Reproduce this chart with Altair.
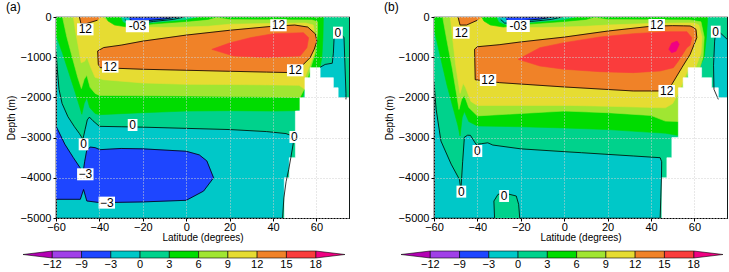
import altair as alt
import pandas as pd

FONT = "Liberation Sans"
XTICKS = [-60, -40, -20, 0, 20, 40, 60]
YTICKS = [-5000, -4000, -3000, -2000, -1000, 0]
CB_LABELS = ["−12", "−9", "−3", "0", "3", "6", "9", "12", "15", "18"]
CB_COLORS = ["#a040e8", "#1e46ff", "#00c8c8", "#00d28c", "#00dc00",
             "#a0e632", "#e6dc32", "#f08228", "#fa3c3c"]
TIP_LOW = "#b400b4"
TIP_HIGH = "#f00082"
PURPLE, BLUE, CYAN, TEAL, GREEN, LGREEN, YELLOW, ORANGE, RED = CB_COLORS
MAGENTA = TIP_HIGH

# ---------------- panel (a) ----------------
A_ZERO_LAT = [-60, -59.4, -58.6, -57.2, -54.5, -51.5, -49.2, -47.6, -46.6, -45.6, -44.6, -43, -40,
              -30, -20, 0, 20, 37, 46, 48.8, 49.3, 48.2, 47.2, 46, 45, 44.4]
A_ZERO_DEP = [-850, -1300, -1800, -2150, -2480, -2730, -2900, -3040, -2800, -2560, -2490, -2580, -2720,
              -2730, -2740, -2770, -2800, -2850, -2900, -2960, -3150, -3500, -3800, -4100, -4500, -5000]
A_G3_LAT = [-60, -57, -54, -51, -49, -48.1, -47, -45.8, -44.5, -42, -40, -20, 0, 20, 40, 50, 52.4,
            54.7, 57, 60, 61.7, 62.5, 63, 63.2, -60]
A_G3_DEP = [-450, -900, -1400, -1900, -2250, -2420, -2150, -2000, -2250, -2400, -2430, -2380, -2340,
            -2330, -2340, -2330, -2300, -1760, -1450, -1280, -1240, -1000, -500, 0, 0]
A_G6_LAT = [-57, -55, -52.5, -50, -48.3, -47, -45.8, -44.3, -42, -40, -20, 0, 20, 40, 52.4, 54.7,
            57.1, 59.5, 60.5, 60.5, 58, 40, 20, 12, -36]
A_G6_DEP = [0, -500, -1000, -1500, -1780, -1550, -1450, -1750, -1900, -1950, -1960, -1965, -1975,
            -1990, -2000, -1760, -1300, -900, -400, -120, -75, -70, -65, 0, 0]
A_Y9_LAT = [-52, -39, -36, -30, -20, -10, 0, 10, 20, 40, 55, 58.5, 59.4, 59, 56.5, 54.7, 54.7, 52,
            40, 20, 0, -20, -38, -42, -44, -45.7, -46.8, -48.4, -49.5, -51]
A_Y9_DEP = [0, 0, -100, -220, -250, -260, -250, -230, -180, -160, -150, -200, -500, -900, -1260,
            -1500, -1800, -1700, -1690, -1680, -1675, -1640, -1560, -1500, -1250, -1000, -1100,
            -1140, -800, -350]
A_O12_LAT = [-40.8, -38, -30, -20, 0, 20, 40, 50, 56, 59.5, 60.2, 59, 57.1, 52.5, 49.5, 37, 20, 0,
             -20, -39.6, -40.5]
A_O12_DEP = [-845, -760, -700, -600, -450, -330, -230, -200, -250, -420, -600, -800, -1010, -1260,
             -1385, -1370, -1350, -1325, -1300, -1260, -1180]
A_R15_LAT = [11.8, 20.3, 30, 40.2, 54, 56.4, 55.6, 52.5, 37.2, 21.8]
A_R15_DEP = [-805, -640, -510, -415, -390, -514, -763, -970, -1010, -970]
A_WEDGE_LAT = [-49.2, -39.4, -40.9, -46.1, -48.5]
A_WEDGE_DEP = [0, 0, -80, -166, -166]
A_SG_LAT = [-37, 14, 10, 0, -15, -27, -33, -36]
A_SG_DEP = [0, 0, -60, -110, -170, -250, -200, -100]
A_ST_LAT = [-30, 5, 0, -10, -20, -25, -29]
A_ST_DEP = [0, 0, -60, -110, -160, -210, -120]
A_SC_LAT = [-28.5, -1, -6, -15, -22, -26.5, -28.3]
A_SC_DEP = [0, 0, -60, -110, -160, -150, -60]
A_SB_LAT = [-26, -4, -10, -18, -24, -26]
A_SB_DEP = [0, 0, -50, -90, -110, -60]
A_NORD_LAT = [68.1, 70, 72.7, 73.6, 73.6, 66, 61.7, 61.7, 64, 67.3, 67.8]
A_NORD_DEP = [-555, -330, -515, -1900, -2100, -2100, -1600, -1250, -1180, -1150, -900]
A_NORDLINE_LAT = [61.7, 64, 67.3, 67.8, 68.1, 70, 72.7, 73.6, 73.6]
A_NORDLINE_DEP = [-1250, -1180, -1150, -900, -555, -330, -515, -1900, -2050]
A_DEEP_LAT = [-60, -55.9, -52, -48.9, -47.6, -46.8, -45.9, -44.3, -42, -39.7, -30, -20, 0, 6, 9.5,
              12.6, 8, 0, -20, -39.6, -45.8, -47.3, -48.8, -60]
A_DEEP_DEP = [-2712, -3168, -3500, -3750, -3900, -3600, -3334, -3235, -3250, -3300, -3270, -3280,
              -3340, -3430, -3580, -4000, -4330, -4560, -4600, -4618, -4576, -4290, -4535, -4535]
A_LAND_LAT = [45.2, 45.2, 47.5, 47.5, 50.3, 50.3, 52.4, 52.4, 54.7, 54.7, 57.1, 57.1, 61.7, 61.7,
              67.8, 67.8, 70, 70, 75, 75]
A_LAND_DEP = [-5000, -4000, -4000, -3500, -3500, -2340, -2340, -2010, -2010, -1510, -1510, -1260,
              -1260, -1510, -1510, -1760, -1760, -2010, -2010, -5000]
A_LAB_TEXT = ["12", "12", "0", "12", "12", "0", "0", "0", "−3", "−3", "-03"]
A_LAB_LAT = [-46.5, 42.5, 69.9, -35, 50.2, -24.7, 49.8, -47.3, -46.5, -36.6, -22.5]
A_LAB_DEP = [-307, -207, -390, -1235, -1326, -2686, -2984, -3167, -3913, -4618, -230]

# ---------------- panel (b) ----------------
B_ZERO_LAT = [-60, -59.6, -59, -56.8, -52.1, -48.3, -47.6, -46.8, -46, -44.5, -43.2, -42, -40.6,
              -38, -35.2, -32.9, -20, 0, 8, 31.8, 44.2, 44.9, 44.8, 44.5, 44.2]
B_ZERO_DEP = [-1600, -1900, -2300, -3085, -3660, -4040, -4300, -3600, -2990, -2940, -2945, -3050,
              -3170, -3150, -3130, -3185, -3280, -3350, -3376, -3457, -3500, -3600, -4000, -4500, -5000]
B_BULGE_LAT = [-32.1, -32.4, -30.5, -27.5, -22.1, -21.0, -20.5]
B_BULGE_DEP = [-5000, -4578, -4412, -4380, -4453, -4660, -5000]
B_G3_LAT = [-60, -57, -54, -51, -49, -48, -47, -46, -44, -40, -20, 0, 20, 40, 46.6, 52.6, 54.8,
            57.1, 62, 64.5, 65.5, 66, 66, -60]
B_G3_DEP = [-300, -1000, -1700, -2300, -2700, -2960, -2500, -2350, -2600, -2710, -2730, -2760,
            -2800, -2870, -2890, -2950, -1700, -1400, -1280, -1000, -500, -100, 0, 0]
B_G6_LAT = [-56, -54, -51.5, -49.5, -48.5, -47.3, -46, -44, -40, -20, 0, 20, 40, 46.6, 52.6, 54.8,
            57.1, 62.5, 64, 64.5, 63, 58, 40, 20, 12, -36]
B_G6_DEP = [0, -600, -1300, -1950, -2300, -2050, -1950, -2250, -2460, -2400, -2340, -2380, -2450,
            -2590, -2600, -1760, -1400, -1260, -1000, -500, -120, -75, -70, -65, 0, 0]
B_Y9_LAT = [-52.5, -38, -35, -30, -20, -10, 0, 10, 20, 40, 55, 60, 62, 63.5, 63, 60.5, 57.1, 54.8,
            52.5, 50, 46.6, 20, 3, -20, -40, -43, -45.5, -46.6, -48, -50, -51.5]
B_Y9_DEP = [0, 0, -100, -230, -260, -260, -250, -230, -200, -160, -150, -150, -200, -500, -900,
            -1260, -1300, -1600, -1900, -2150, -2260, -2220, -2200, -2200, -2200, -2100, -1750,
            -1650, -1900, -1200, -500]
B_O12_LAT = [-41.3, -40, -30, -20, 0, 20, 40, 50, 55, 58, 59.5, 60.7, 61.1, 58, 54.2, 49.6, 46.5,
             44.2, 31.8, 0, -29.7, -41]
B_O12_DEP = [-800, -740, -690, -620, -500, -350, -230, -215, -220, -224, -260, -307, -514, -930,
             -1260, -1675, -1840, -1840, -1840, -1740, -1633, -1560]
B_R15_LAT = [-21.2, -11.2, 0, 16.5, 31.8, 47.2, 56.5, 58.8, 58, 56.5, 52.6, 50.3, 44.2, 31.8, 16.5,
             0, -11.2]
B_R15_DEP = [-1053, -763, -638, -497, -415, -365, -365, -514, -700, -763, -1094, -1260, -1343,
             -1384, -1360, -1300, -1219]
B_M18_LAT = [48.2, 49.5, 52, 53, 51.5, 49.5]
B_M18_DEP = [-800, -650, -600, -680, -850, -890]
B_WEDGE_LAT = [-48.9, -38.2, -40, -45, -48]
B_WEDGE_DEP = [0, 0, -80, -200, -200]
B_SG_LAT = [-38, 14, 10, 0, -15, -28, -34, -37]
B_SG_DEP = [0, 0, -60, -110, -170, -250, -200, -100]
B_ST_LAT = [-31, 5, 0, -10, -21, -26, -30]
B_ST_DEP = [0, 0, -60, -110, -160, -210, -120]
B_SC_LAT = [-29.5, -1, -6, -15, -23, -27.5, -29.3]
B_SC_DEP = [0, 0, -60, -110, -160, -150, -60]
B_SB_LAT = [-26.6, -5, -11, -19, -25, -26.6]
B_SB_DEP = [0, 0, -50, -90, -110, -60]
B_NORD_LAT = [69.3, 69.9, 72, 75, 75, 71, 69, 68.8]
B_NORD_DEP = [-600, -330, -400, -550, -2100, -2100, -1800, -1200]
B_NORDLINE_LAT = [71, 69, 68.8, 69.3, 69.9, 72, 75]
B_NORDLINE_DEP = [-2050, -1800, -1200, -600, -330, -400, -550]
B_LAND_LAT = [45, 45, 47.3, 47.3, 49.6, 49.6, 52.6, 52.6, 54.8, 54.8, 57.1, 57.1, 63.3, 63.3, 67.9,
              67.9, 71, 71, 75, 75]
B_LAND_DEP = [-5000, -4000, -4000, -3500, -3500, -3000, -3000, -1760, -1760, -1510, -1510, -1260,
              -1260, -1510, -1510, -1760, -1760, -2010, -2010, -5000]
B_LAB_TEXT = ["12", "-03", "12", "0", "12", "12", "0", "0", "0"]
B_LAB_LAT = [-47.4, -21.2, 42.6, 69.8, -35.1, 47.2, -40, -47.4, -27.7]
B_LAB_DEP = [-390, -224, -199, -365, -1567, -1840, -3333, -4344, -4452]

# ---------------- helpers ----------------
W, H = 293, 201
XS = alt.Scale(domain=[-60, 75], nice=False, zero=False)
YS = alt.Scale(domain=[-5000, 0], nice=False, zero=False)
AX_COMMON = dict(grid=True, gridColor="#d0d0d0", gridDash=[1, 2], gridWidth=1, domain=False,
                 tickSize=3, tickColor="black", labelFont=FONT, labelFontSize=11, labelColor="black",
                 titleFont=FONT, titleFontSize=10, titleFontWeight="normal", titleColor="black",
                 zindex=1, format="d", labelFlush=False)
XAX = alt.Axis(values=XTICKS, title="Latitude (degrees)", labelPadding=0, titlePadding=0, **AX_COMMON)
YAX = alt.Axis(values=YTICKS, title="Depth (m)", labelPadding=2, titlePadding=4, **AX_COMMON)


def table(lats, deps, close):
    lats, deps = list(lats), list(deps)
    if close:
        lats.append(lats[0])
        deps.append(deps[0])
    return pd.DataFrame({"lat": lats, "dep": deps, "i": list(range(len(lats)))})


def xy():
    return dict(x=alt.X("lat:Q", scale=XS, axis=XAX), y=alt.Y("dep:Q", scale=YS, axis=YAX))


def fill_layer(color, lats, deps):
    return alt.Chart(table(lats, deps, True)).mark_line(
        fill=color, stroke=color, strokeWidth=0.6, clip=True).encode(order="i:Q", **xy())


def line_layer(lats, deps, close=False):
    return alt.Chart(table(lats, deps, close)).mark_line(
        color="black", strokeWidth=0.8, clip=True).encode(order="i:Q", **xy())


def label_layers(texts, lats, deps):
    df = pd.DataFrame({"t": texts, "lat": lats, "dep": deps})
    df["n"] = df["t"].str.len()
    out = []
    for n, sub in df.groupby("n"):
        half = (n * 6.7 + 3) / 12.0
        path = f"M{-half:.2f},-1H{half:.2f}V1H{-half:.2f}Z"
        out.append(alt.Chart(sub).mark_point(shape=path, filled=True, fill="white", opacity=1,
                                             size=144, strokeWidth=0).encode(**xy()))
    out.append(alt.Chart(df).mark_text(font=FONT, fontSize=12, color="black").encode(
        text="t:N", **xy()))
    return out


def panel(title, fills, lines, labels):
    layers = [fill_layer(*f) for f in fills]
    layers += [line_layer(*l) for l in lines]
    layers += label_layers(*labels)
    return alt.layer(*layers).properties(
        width=W, height=H,
        title=alt.TitleParams(title, anchor="start", frame="bounds", font=FONT, fontSize=12,
                              fontWeight="normal", offset=-3, color="black"),
        view=alt.ViewBackground(stroke="black", strokeWidth=1.2, fill=CYAN))


def colorbar():
    cbx = alt.Scale(domain=[0.127, 10.138], nice=False, zero=False)
    cby = alt.Scale(domain=[0, 1], nice=False, zero=False)
    boxes = pd.DataFrame({"a": list(range(9)), "b": list(range(1, 10)), "c": CB_COLORS,
                          "lo": [0] * 9, "hi": [1] * 9})
    rect = alt.Chart(boxes).mark_rect(stroke="black", strokeWidth=0.6).encode(
        x=alt.X("a:Q", scale=cbx, axis=None), x2="b:Q",
        y=alt.Y("lo:Q", scale=cby, axis=None), y2="hi:Q",
        fill=alt.Fill("c:N", scale=None))
    tris = []
    for col, xs in [(TIP_LOW, [0, -1, 0]), (TIP_HIGH, [9, 10, 9])]:
        df = pd.DataFrame({"a": xs + [xs[0]], "v": [0, 0.5, 1, 0], "i": [0, 1, 2, 3]})
        tris.append(alt.Chart(df).mark_line(fill=col, stroke="black", strokeWidth=0.6).encode(
            x=alt.X("a:Q", scale=cbx, axis=None), y=alt.Y("v:Q", scale=cby, axis=None),
            order="i:Q"))
    labs = pd.DataFrame({"a": list(range(10)), "t": CB_LABELS, "lo": [0] * 10})
    text = alt.Chart(labs).mark_text(font=FONT, fontSize=11, baseline="top", dy=1,
                                     color="black").encode(
        x=alt.X("a:Q", scale=cbx, axis=None), y=alt.Y("lo:Q", scale=cby, axis=None), text="t:N")
    return alt.layer(*tris, rect, text).properties(
        width=W, height=7, view=alt.ViewBackground(stroke="transparent"))


panel_a = panel(
    "(a)",
    [(TEAL, A_ZERO_LAT + [75, 75, -60], A_ZERO_DEP + [-5000, 0, 0]),
     (GREEN, A_G3_LAT, A_G3_DEP),
     (LGREEN, A_G6_LAT, A_G6_DEP),
     (YELLOW, A_Y9_LAT, A_Y9_DEP),
     (ORANGE, A_O12_LAT, A_O12_DEP),
     (RED, A_R15_LAT, A_R15_DEP),
     (ORANGE, A_WEDGE_LAT, A_WEDGE_DEP),
     (GREEN, A_SG_LAT, A_SG_DEP),
     (TEAL, A_ST_LAT, A_ST_DEP),
     (CYAN, A_SC_LAT, A_SC_DEP),
     (BLUE, A_SB_LAT, A_SB_DEP),
     (CYAN, A_NORD_LAT, A_NORD_DEP),
     (BLUE, A_DEEP_LAT, A_DEEP_DEP),
     ("white", A_LAND_LAT, A_LAND_DEP)],
    [(A_ZERO_LAT, A_ZERO_DEP),
     (A_O12_LAT, A_O12_DEP, True),
     (A_WEDGE_LAT[2:] + A_WEDGE_LAT[:1], A_WEDGE_DEP[2:] + A_WEDGE_DEP[:1]),
     (A_SC_LAT, A_SC_DEP),
     (A_SB_LAT, A_SB_DEP),
     (A_NORDLINE_LAT, A_NORDLINE_DEP),
     (A_DEEP_LAT, A_DEEP_DEP)],
    (A_LAB_TEXT, A_LAB_LAT, A_LAB_DEP))

panel_b = panel(
    "(b)",
    [(TEAL, B_ZERO_LAT + [75, 75, -60], B_ZERO_DEP + [-5000, 0, 0]),
     (TEAL, B_BULGE_LAT, B_BULGE_DEP),
     (GREEN, B_G3_LAT, B_G3_DEP),
     (LGREEN, B_G6_LAT, B_G6_DEP),
     (YELLOW, B_Y9_LAT, B_Y9_DEP),
     (ORANGE, B_O12_LAT, B_O12_DEP),
     (RED, B_R15_LAT, B_R15_DEP),
     (MAGENTA, B_M18_LAT, B_M18_DEP),
     (ORANGE, B_WEDGE_LAT, B_WEDGE_DEP),
     (GREEN, B_SG_LAT, B_SG_DEP),
     (TEAL, B_ST_LAT, B_ST_DEP),
     (CYAN, B_SC_LAT, B_SC_DEP),
     (BLUE, B_SB_LAT, B_SB_DEP),
     (CYAN, B_NORD_LAT, B_NORD_DEP),
     ("white", B_LAND_LAT, B_LAND_DEP)],
    [(B_ZERO_LAT, B_ZERO_DEP),
     (B_BULGE_LAT, B_BULGE_DEP),
     (B_O12_LAT, B_O12_DEP, True),
     (B_WEDGE_LAT[2:] + B_WEDGE_LAT[:1], B_WEDGE_DEP[2:] + B_WEDGE_DEP[:1]),
     (B_SC_LAT, B_SC_DEP),
     (B_SB_LAT, B_SB_DEP),
     (B_NORDLINE_LAT, B_NORDLINE_DEP)],
    (B_LAB_TEXT, B_LAB_LAT, B_LAB_DEP))

left = alt.vconcat(panel_a, colorbar(), spacing=6)
right = alt.vconcat(panel_b, colorbar(), spacing=6)
chart = alt.hconcat(left, right, spacing=33).properties(
    padding={"left": 5, "top": 0, "right": 0, "bottom": 0}, background="white"
).configure_view(stroke="transparent")

chart.save("out.html", embed_options={"renderer": "svg", "actions": False})
